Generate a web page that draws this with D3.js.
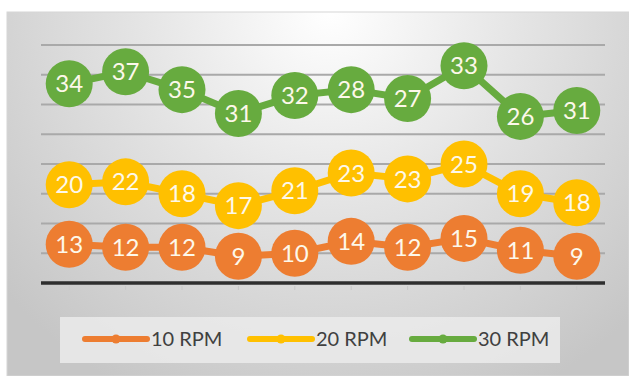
<!DOCTYPE html>
<html>
<head>
<meta charset="utf-8">
<script src="https://cdn.jsdelivr.net/npm/d3@7"></script>
<style>
  html, body { margin: 0; padding: 0; background: #fff; }
  svg { display: block; }
</style>
</head>
<body>
<div id="chart"></div>
<script>
// chart values
const categories = ["1", "2", "3", "4", "5", "6", "7", "8", "9", "10"];
const rpm10 = [13, 12, 12, 9, 10, 14, 12, 15, 11, 9];
const rpm20 = [20, 22, 18, 17, 21, 23, 23, 25, 19, 18];
const rpm30 = [34, 37, 35, 31, 32, 28, 27, 33, 26, 31];
const seriesNames = ["10 RPM", "20 RPM", "30 RPM"];
const yTicks = [10, 20, 30, 40, 50, 60, 70, 80];

const colors = ["#ED7D31", "#FFC000", "#67AB3F"];

const width = 629;
const height = 376;

const svg = d3.select("#chart")
  .append("svg")
  .attr("width", width)
  .attr("height", height);

// background gradient, lighter at the top middle
const defs = svg.append("defs");
const grad = defs.append("radialGradient")
  .attr("id", "bg")
  .attr("gradientUnits", "userSpaceOnUse")
  .attr("cx", 330).attr("cy", 10).attr("r", 430);
grad.append("stop").attr("offset", "0%").attr("stop-color", "#ffffff");
grad.append("stop").attr("offset", "45%").attr("stop-color", "#e4e4e4");
grad.append("stop").attr("offset", "100%").attr("stop-color", "#c6c6c6");

svg.append("rect")
  .attr("x", 7).attr("y", 12)
  .attr("width", width - 7).attr("height", height - 12)
  .attr("fill", "url(#bg)")
  .attr("stroke", "#d6d6d6");

// scales
const x = d3.scalePoint()
  .domain(categories)
  .range([41, 605])
  .padding(0.5);

const y = d3.scaleLinear()
  .domain([0, 80])
  .range([283, 45]);

// stacked series
const table = categories.map((c, i) => ({ cat: c, a: rpm10[i], b: rpm20[i], c: rpm30[i] }));
const stacked = d3.stack().keys(["a", "b", "c"])(table);
const values = [rpm10, rpm20, rpm30];

// gridlines
svg.append("g")
  .selectAll("line")
  .data(yTicks)
  .enter()
  .append("line")
  .attr("x1", 41).attr("x2", 605)
  .attr("y1", d => y(d)).attr("y2", d => y(d))
  .attr("stroke", "#a9a9a9")
  .attr("stroke-width", 2);

// faint category ticks under the axis
svg.append("g")
  .selectAll("line")
  .data(categories)
  .enter()
  .append("line")
  .attr("x1", d => x(d)).attr("x2", d => x(d))
  .attr("y1", 286).attr("y2", 290)
  .attr("stroke", "#c8c8c8")
  .attr("stroke-width", 1);

// axis line
svg.append("line")
  .attr("x1", 41).attr("x2", 605)
  .attr("y1", y(0)).attr("y2", y(0))
  .attr("stroke", "#2e2e2e")
  .attr("stroke-width", 3.5);

const line = d3.line()
  .x(d => x(d.data.cat))
  .y(d => y(d[1]));

stacked.forEach((s, si) => {
  const g = svg.append("g");

  g.append("path")
    .datum(s)
    .attr("d", line)
    .attr("fill", "none")
    .attr("stroke", colors[si])
    .attr("stroke-width", 7)
    .attr("stroke-linejoin", "round");

  const pts = g.selectAll("g.pt")
    .data(s)
    .enter()
    .append("g")
    .attr("transform", d => `translate(${x(d.data.cat)},${y(d[1])})`);

  pts.append("circle")
    .attr("r", 23.5)
    .attr("fill", colors[si]);

  pts.append("text")
    .attr("text-anchor", "middle")
    .attr("dy", "0.36em")
    .attr("font-family", "Lato, 'Open Sans', sans-serif")
    .attr("font-size", 24)
    .attr("fill", "#fdf8ea")
    .text((d, i) => values[si][i]);
});

// legend
svg.append("rect")
  .attr("x", 60).attr("y", 317)
  .attr("width", 500).attr("height", 46)
  .attr("fill", "#ebebeb")
  .attr("opacity", 0.85);

const legendX = [85, 250, 412];
const legend = svg.append("g")
  .selectAll("g")
  .data(seriesNames)
  .enter()
  .append("g")
  .attr("transform", (d, i) => `translate(${legendX[i]},339)`);

legend.append("line")
  .attr("x1", 0).attr("x2", 62)
  .attr("stroke", (d, i) => colors[i])
  .attr("stroke-width", 6)
  .attr("stroke-linecap", "round");

legend.append("circle")
  .attr("cx", 31).attr("r", 4.5)
  .attr("fill", (d, i) => colors[i]);

legend.append("text")
  .attr("x", 66)
  .attr("dy", "0.35em")
  .attr("font-family", "Lato, 'Open Sans', sans-serif")
  .attr("font-size", 20)
  .attr("fill", "#404040")
  .text(d => d);
</script>
</body>
</html>
